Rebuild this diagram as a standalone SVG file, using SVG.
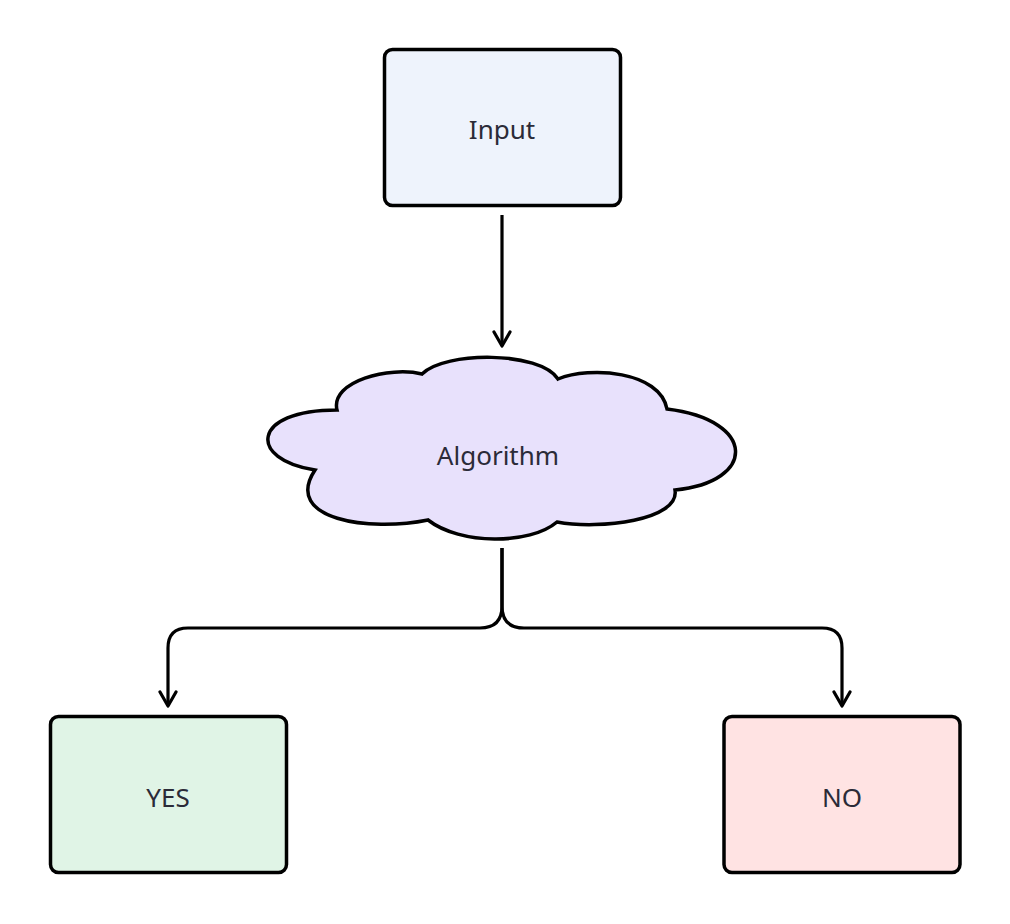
<svg xmlns="http://www.w3.org/2000/svg" width="1010" height="924" viewBox="0 0 1010 924">
<defs>
<style>
.box{stroke:#000;stroke-width:3.5}
.lbl{font-family:"Noto Sans","Open Sans",sans-serif;font-size:26px;fill:#2b2b38;text-anchor:middle;dominant-baseline:central}
.edge{fill:none;stroke:#000;stroke-width:3.2}
</style>
<marker id="arr" viewBox="0 0 20 20" refX="17" refY="10" markerWidth="20" markerHeight="20" markerUnits="userSpaceOnUse" orient="auto">
<path d="M 3 2 L 17 10 L 3 18" fill="none" stroke="#000" stroke-width="3.2" stroke-linecap="round" stroke-linejoin="round"/>
</marker>
</defs>
<rect width="1010" height="924" fill="#fff"/>
<g id="edges">
<path class="edge" d="M 502 215 L 502 346" marker-end="url(#arr)"/>
<path class="edge" d="M 502 548 L 502 606 Q 502 628 480 628 L 188 628 Q 168 628 168 648 L 168 706" marker-end="url(#arr)"/>
<path class="edge" d="M 502 548 L 502 606 Q 502 628 524 628 L 822 628 Q 842 628 842 648 L 842 706" marker-end="url(#arr)"/>
</g>
<g id="input">
<rect class="box" x="384.5" y="49.5" width="236" height="156" rx="8" fill="#eef3fc"/>
<text class="lbl" x="502" y="129">Input</text>
</g>
<g id="algorithm">
<path class="box" fill="#e8e1fc" d="M 422 374 C 445 351, 540 351, 558 379 C 590 366, 660 371, 667 409 C 757 420, 757 482, 675 490 C 680 520, 600 530, 557 522 C 530 545, 460 545, 428 520 C 370 532, 282 520, 315 470 C 248 460, 250 410, 337 410 C 330 381, 390 366, 422 374 Z"/>
<text class="lbl" x="498" y="455">Algorithm</text>
</g>
<g id="yes">
<rect class="box" x="50.5" y="716.5" width="236" height="156" rx="8" fill="#e0f4e6"/>
<text class="lbl" x="168" y="797">YES</text>
</g>
<g id="no">
<rect class="box" x="724" y="716.5" width="236" height="156" rx="8" fill="#ffe3e3"/>
<text class="lbl" x="842" y="797">NO</text>
</g>
</svg>
